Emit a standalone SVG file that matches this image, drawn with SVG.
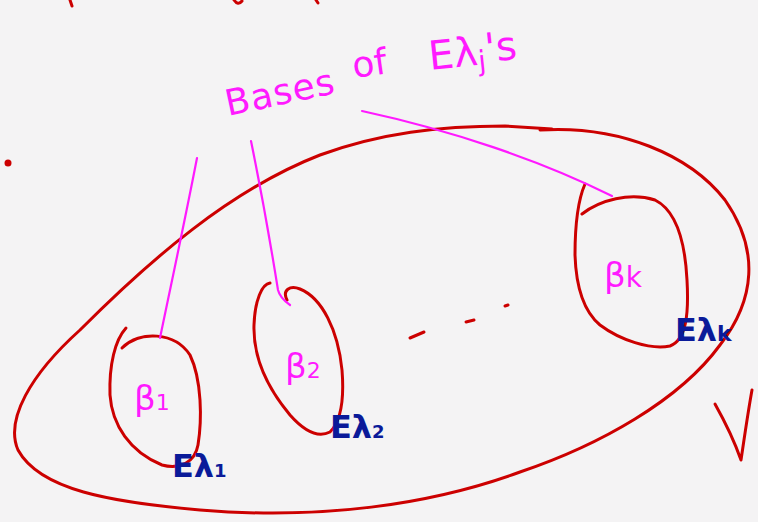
<svg xmlns="http://www.w3.org/2000/svg" width="758" height="522" viewBox="0 0 758 522">
<style>
.red{fill:none;stroke:#cc0000;stroke-width:3;stroke-linecap:round;stroke-linejoin:round}
.pink{fill:none;stroke:#ff1aff;stroke-width:2.2;stroke-linecap:round}
.pt{fill:#ff1aff;font-family:"DejaVu Sans",sans-serif}
.bt{fill:#0a1a99;font-family:"DejaVu Sans",sans-serif;font-weight:bold}
</style>
<rect width="758" height="522" fill="#f4f3f4"/>
<g id="marks">
<path class="red" d="M70 0 L72 6"/>
<path class="red" d="M234 0 Q238 6 242 1"/>
<path class="red" d="M316 0 L318 3"/>
<circle cx="8" cy="163" r="3.5" fill="#cc0000"/>
<path class="red" d="M410 338 L424 332 M466 322 L474 320 M505 306 L508 305"/>
</g>
<g id="space-V">
<path class="red" d="M540 130 C620 125 690 155 725 200 C760 250 755 300 720 345 C680 400 600 445 520 472 C430 505 320 520 200 510 C110 502 40 490 18 450 C5 420 30 375 80 330 C150 260 230 190 320 155 C380 133 440 126 505 126 L552 129"/>
</g>
<g id="V">
<path class="red" d="M715 404 C724 420 734 440 741 460 C744 440 748 412 752 390"/>
</g>
<g id="B1">
<path class="red" d="M122 348 C140 330 175 332 190 355 C202 380 202 420 198 445 C195 462 180 470 162 465 C130 452 112 425 110 395 C109 365 115 340 126 328"/>
<text class="pt" x="134" y="410" font-size="34">β<tspan font-size="22">1</tspan></text>
<text class="bt" x="172" y="477" font-size="32">Eλ<tspan font-size="18">1</tspan></text>
</g>
<g id="B2">
<path class="red" d="M270 283 C262 284 255 300 254 325 C253 355 265 385 290 415 C305 432 318 438 330 432 C342 420 344 395 342 370 C338 330 322 298 300 289 C290 285 282 290 287 300"/>
<text class="pt" x="285" y="378" font-size="34">β<tspan font-size="22">2</tspan></text>
<text class="bt" x="330" y="438" font-size="32">Eλ<tspan font-size="18">2</tspan></text>
</g>
<g id="Bk">
<path class="red" d="M582 214 C600 200 630 192 655 200 C675 210 685 240 687 280 C689 315 686 340 670 346 C650 350 620 340 600 325 C582 310 576 285 575 255 C575 225 578 200 585 184"/>
<text class="pt" x="604" y="287" font-size="34">β<tspan font-size="28">k</tspan></text>
<text class="bt" x="675" y="341" font-size="32">Eλ<tspan font-size="22">k</tspan></text>
</g>
<g id="label">
<text class="pt" font-size="36" letter-spacing="1" transform="translate(228 116) rotate(-12)">Bases</text>
<text class="pt" font-size="36" transform="translate(354 78) rotate(-8)">of</text>
<text class="pt" font-size="40" transform="translate(430 70) rotate(-6)">Eλ<tspan font-size="28" dy="6">j</tspan><tspan font-size="40" dy="-8">'s</tspan></text>
</g>
<g id="connectors">
<path class="pink" d="M197 158 C185 220 172 280 160 338"/>
<path class="pink" d="M251 141 C260 185 270 240 278 290 C280 298 286 302 290 305"/>
<path class="pink" d="M362 111 C450 130 540 160 612 196"/>
</g>
</svg>
